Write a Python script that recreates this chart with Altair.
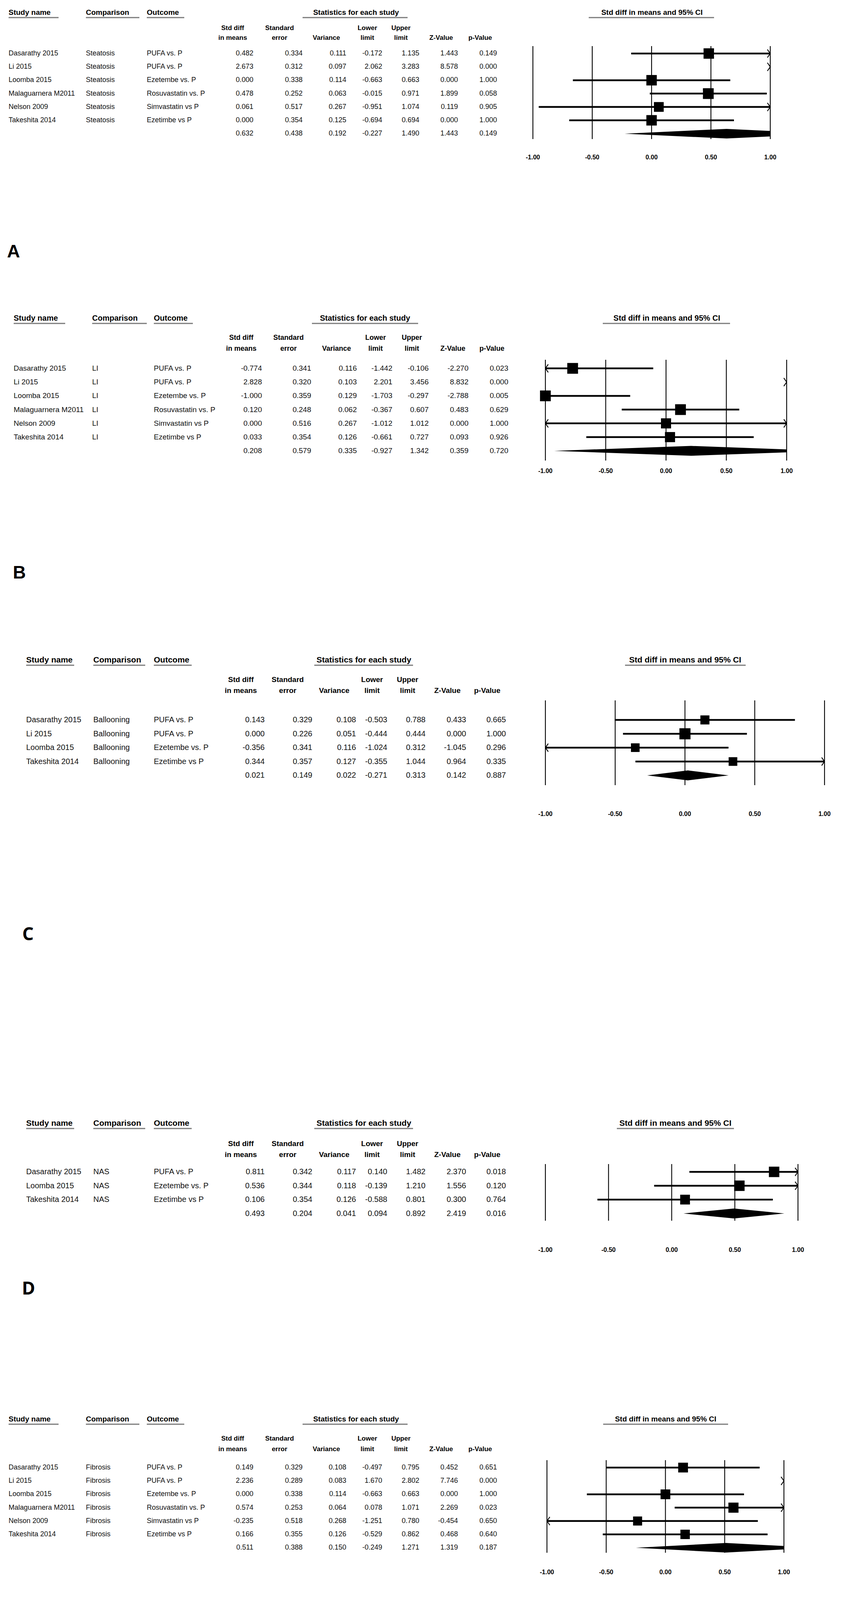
import altair as alt
import pandas as pd

COLS = ["std", "se", "var", "lo", "hi", "z", "p"]
TICKS = [-1.0, -0.5, 0.0, 0.5, 1.0]
TICK_LABELS = ["-1.00", "-0.50", "0.00", "0.50", "1.00"]
HDR1 = ["Std diff", "Standard", "", "Lower", "Upper", "", ""]
HDR2 = ["in means", "error", "Variance", "limit", "limit", "Z-Value", "p-Value"]

# ---------------- Panel A : Steatosis ----------------
A_study = ["Dasarathy 2015", "Li 2015", "Loomba 2015", "Malaguarnera M2011", "Nelson 2009", "Takeshita 2014"]
A_comp = ["Steatosis", "Steatosis", "Steatosis", "Steatosis", "Steatosis", "Steatosis"]
A_out = ["PUFA vs. P", "PUFA vs. P", "Ezetembe vs. P", "Rosuvastatin vs. P", "Simvastatin vs P", "Ezetimbe vs P"]
A_std = [0.482, 2.673, 0.000, 0.478, 0.061, 0.000]
A_se = [0.334, 0.312, 0.338, 0.252, 0.517, 0.354]
A_var = [0.111, 0.097, 0.114, 0.063, 0.267, 0.125]
A_lo = [-0.172, 2.062, -0.663, -0.015, -0.951, -0.694]
A_hi = [1.135, 3.283, 0.663, 0.971, 1.074, 0.694]
A_z = [1.443, 8.578, 0.000, 1.899, 0.119, 0.000]
A_p = [0.149, 0.000, 1.000, 0.058, 0.905, 1.000]
A_sum = [0.632, 0.438, 0.192, -0.227, 1.490, 1.443, 0.149]
A_wt = [16, 16, 16, 17, 14, 16]

# ---------------- Panel B : LI ----------------
B_study = ["Dasarathy 2015", "Li 2015", "Loomba 2015", "Malaguarnera M2011", "Nelson 2009", "Takeshita 2014"]
B_comp = ["LI", "LI", "LI", "LI", "LI", "LI"]
B_out = ["PUFA vs. P", "PUFA vs. P", "Ezetembe vs. P", "Rosuvastatin vs. P", "Simvastatin vs P", "Ezetimbe vs P"]
B_std = [-0.774, 2.828, -1.000, 0.120, 0.000, 0.033]
B_se = [0.341, 0.320, 0.359, 0.248, 0.516, 0.354]
B_var = [0.116, 0.103, 0.129, 0.062, 0.267, 0.126]
B_lo = [-1.442, 2.201, -1.703, -0.367, -1.012, -0.661]
B_hi = [-0.106, 3.456, -0.297, 0.607, 1.012, 0.727]
B_z = [-2.270, 8.832, -2.788, 0.483, 0.000, 0.093]
B_p = [0.023, 0.000, 0.005, 0.629, 1.000, 0.926]
B_sum = [0.208, 0.579, 0.335, -0.927, 1.342, 0.359, 0.720]
B_wt = [17, 17, 17, 17, 15, 15]

# ---------------- Panel C : Ballooning ----------------
C_study = ["Dasarathy 2015", "Li 2015", "Loomba 2015", "Takeshita 2014"]
C_comp = ["Ballooning", "Ballooning", "Ballooning", "Ballooning"]
C_out = ["PUFA vs. P", "PUFA vs. P", "Ezetembe vs. P", "Ezetimbe vs P"]
C_std = [0.143, 0.000, -0.356, 0.344]
C_se = [0.329, 0.226, 0.341, 0.357]
C_var = [0.108, 0.051, 0.116, 0.127]
C_lo = [-0.503, -0.444, -1.024, -0.355]
C_hi = [0.788, 0.444, 0.312, 1.044]
C_z = [0.433, 0.000, -1.045, 0.964]
C_p = [0.665, 1.000, 0.296, 0.335]
C_sum = [0.021, 0.149, 0.022, -0.271, 0.313, 0.142, 0.887]
C_wt = [12, 18, 11, 11]

# ---------------- Panel D : NAS ----------------
D_study = ["Dasarathy 2015", "Loomba 2015", "Takeshita 2014"]
D_comp = ["NAS", "NAS", "NAS"]
D_out = ["PUFA vs. P", "Ezetembe vs. P", "Ezetimbe vs P"]
D_std = [0.811, 0.536, 0.106]
D_se = [0.342, 0.344, 0.354]
D_var = [0.117, 0.118, 0.126]
D_lo = [0.140, -0.139, -0.588]
D_hi = [1.482, 1.210, 0.801]
D_z = [2.370, 1.556, 0.300]
D_p = [0.018, 0.120, 0.764]
D_sum = [0.493, 0.204, 0.041, 0.094, 0.892, 2.419, 0.016]
D_wt = [16, 16, 14]

# ---------------- Panel E : Fibrosis ----------------
E_study = ["Dasarathy 2015", "Li 2015", "Loomba 2015", "Malaguarnera M2011", "Nelson 2009", "Takeshita 2014"]
E_comp = ["Fibrosis", "Fibrosis", "Fibrosis", "Fibrosis", "Fibrosis", "Fibrosis"]
E_out = ["PUFA vs. P", "PUFA vs. P", "Ezetembe vs. P", "Rosuvastatin vs. P", "Simvastatin vs P", "Ezetimbe vs P"]
E_std = [0.149, 2.236, 0.000, 0.574, -0.235, 0.166]
E_se = [0.329, 0.289, 0.338, 0.253, 0.518, 0.355]
E_var = [0.108, 0.083, 0.114, 0.064, 0.268, 0.126]
E_lo = [-0.497, 1.670, -0.663, 0.078, -1.251, -0.529]
E_hi = [0.795, 2.802, 0.663, 1.071, 0.780, 0.862]
E_z = [0.452, 7.746, 0.000, 2.269, -0.454, 0.468]
E_p = [0.651, 0.000, 1.000, 0.023, 0.650, 0.640]
E_sum = [0.511, 0.388, 0.150, -0.249, 1.271, 1.319, 0.187]
E_wt = [14, 14, 14, 15, 12, 13]

# ---------------- layout (page pixel coordinates) ----------------
FONT = "Liberation Sans Narrow, Arial Narrow, Liberation Sans, sans-serif"
LBL_FONT_AB = "Liberation Sans, Arial, sans-serif"
LBL_FONT_CDE = "Open Sans, Noto Sans, sans-serif"

LAYOUT = {
    "A": dict(top=8, bottom=740, xs=[22, 220, 376],
              right=[649, 775, 887, 979, 1074, 1173, 1273],
              hc=[596, 716, 836, 941, 1027, 1130, 1230],
              hy=32, chy=[72, 97], row0=137, dy=34.2,
              ul=[[22, 150], [220, 357], [376, 472], [775, 1044], [1508, 1829]],
              stats_c=912, ci_c=1670, forest=[1365, 1973], vtop=118, vbot=356, tick_y=403,
              lx=18, ly=645, lfont=LBL_FONT_AB, fs=18, hfs=19),
    "B": dict(top=740, bottom=1560, xs=[35, 236, 394],
              right=[671, 797, 914, 1005, 1098, 1200, 1302],
              hc=[618, 739, 862, 962, 1055, 1160, 1260],
              hy=815, chy=[865, 893], row0=943, dy=35.2,
              ul=[[35, 167], [236, 376], [394, 494], [799, 1071], [1544, 1870]],
              stats_c=935, ci_c=1708, forest=[1397, 2015], vtop=921, vbot=1179, tick_y=1206,
              lx=33, ly=1467, lfont=LBL_FONT_AB, fs=19, hfs=20),
    "C": dict(top=1560, bottom=2600, xs=[67, 239, 394],
              right=[678, 800, 912, 992, 1090, 1194, 1296],
              hc=[617, 737, 856, 953, 1044, 1146, 1248],
              hy=1690, chy=[1740, 1768], row0=1843, dy=35.5,
              ul=[[67, 190], [239, 372], [394, 491], [805, 1058], [1601, 1910]],
              stats_c=932, ci_c=1755, forest=[1397, 2112], vtop=1793, vbot=2010, tick_y=2084,
              lx=57, ly=2393, lfont=LBL_FONT_CDE, fs=20, hfs=21),
    "D": dict(top=2600, bottom=3420, xs=[67, 239, 394],
              right=[678, 800, 912, 992, 1090, 1194, 1296],
              hc=[617, 737, 856, 953, 1044, 1146, 1248],
              hy=2876, chy=[2928, 2956], row0=3000, dy=35.5,
              ul=[[67, 190], [239, 372], [394, 491], [805, 1058], [1580, 1880]],
              stats_c=932, ci_c=1730, forest=[1397, 2044], vtop=2980, vbot=3125, tick_y=3200,
              lx=56, ly=3300, lfont=LBL_FONT_CDE, fs=20, hfs=21),
    "E": dict(top=3420, bottom=4215, xs=[22, 220, 376],
              right=[649, 775, 887, 979, 1074, 1173, 1273],
              hc=[596, 716, 836, 941, 1027, 1130, 1230],
              hy=3633, chy=[3683, 3710], row0=3757, dy=34.2,
              ul=[[22, 150], [220, 357], [376, 472], [775, 1044], [1545, 1865]],
              stats_c=912, ci_c=1705, forest=[1401, 2008], vtop=3738, vbot=3975, tick_y=4025,
              lx=30, ly=4183, lfont=LBL_FONT_CDE, fs=18, hfs=19),
}
PAGE_W = 2151


def one_text(text, x, y, align="center", bold=False, size=18, font=FONT, color="black"):
    return alt.Chart(pd.DataFrame({"t": [text]})).mark_text(
        align=align, baseline="middle", font=font, fontSize=size,
        fontWeight="bold" if bold else "normal", color=color
    ).encode(x=alt.value(x), y=alt.value(y), text="t:N")


def panel(key, study, comp, outc, vals, summ, wt):
    L = LAYOUT[key]
    top = L["top"]
    H = L["bottom"] - top
    ly = lambda y: y - top
    lx = lambda x: x - 8
    n = len(study)

    yscale = alt.Scale(domain=[0, 1], range=[ly(L["row0"]), ly(L["row0"] + L["dy"])], nice=False, zero=False)
    xscale = alt.Scale(domain=[-1, 1], range=[lx(L["forest"][0]), lx(L["forest"][1])], nice=False, zero=False)

    tab = pd.DataFrame({"row": list(range(n + 1)),
                        "study": study + [""], "comp": comp + [""], "outc": outc + [""]})
    for k, c in enumerate(COLS):
        tab[c] = [f"{v:.3f}" for v in vals[k]] + [f"{summ[k]:.3f}"]

    layers = []
    fs = L["fs"]
    for fld, x in zip(["study", "comp", "outc"], L["xs"]):
        layers.append(alt.Chart(tab).mark_text(align="left", baseline="middle", font=FONT, fontSize=fs, color="#111")
                      .encode(x=alt.value(lx(x)), y=alt.Y("row:Q", scale=yscale, axis=None), text=f"{fld}:N"))
    for c, x in zip(COLS, L["right"]):
        layers.append(alt.Chart(tab).mark_text(align="right", baseline="middle", font=FONT, fontSize=fs, color="#111")
                      .encode(x=alt.value(lx(x)), y=alt.Y("row:Q", scale=yscale, axis=None), text=f"{c}:N"))

    hfs = L["hfs"]
    for txt, (x1, x2) in zip(["Study name", "Comparison", "Outcome"], L["ul"][:3]):
        layers.append(one_text(txt, lx(x1), ly(L["hy"]), align="left", bold=True, size=hfs))
    layers.append(one_text("Statistics for each study", lx(L["stats_c"]), ly(L["hy"]), bold=True, size=hfs))
    layers.append(one_text("Std diff in means and 95% CI", lx(L["ci_c"]), ly(L["hy"]), bold=True, size=hfs))
    for (x1, x2) in L["ul"]:
        layers.append(alt.Chart(pd.DataFrame({"a": [0]})).mark_rule(color="#7a7a7a", strokeWidth=3)
                      .encode(x=alt.value(lx(x1)), x2=alt.value(lx(x2)), y=alt.value(ly(L["hy"]) + 13)))
    for h1, h2, xc in zip(HDR1, HDR2, L["hc"]):
        if h1:
            layers.append(one_text(h1, lx(xc), ly(L["chy"][0]), bold=True, size=fs - 1))
        layers.append(one_text(h2, lx(xc), ly(L["chy"][1]), bold=True, size=fs - 1))

    tk = pd.DataFrame({"t": TICKS, "lab": TICK_LABELS})
    layers.append(alt.Chart(tk).mark_rule(color="black", strokeWidth=2.2)
                  .encode(x=alt.X("t:Q", scale=xscale, axis=None),
                          y=alt.value(ly(L["vtop"])), y2=alt.value(ly(L["vbot"]))))
    layers.append(alt.Chart(tk).mark_text(baseline="middle", font=FONT, fontSize=16, fontWeight="bold")
                  .encode(x=alt.X("t:Q", scale=xscale, axis=None), y=alt.value(ly(L["tick_y"])), text="lab:N"))

    est, lo, hi = vals[0], vals[3], vals[4]
    ci = pd.DataFrame({"row": list(range(n)), "lo": lo, "hi": hi, "est": est, "w": wt})
    ci["loc"] = ci["lo"].clip(lower=-1)
    ci["hic"] = ci["hi"].clip(upper=1)
    vis = ci[(ci["lo"] < 1) & (ci["hi"] > -1)]
    layers.append(alt.Chart(vis).mark_rule(color="black", strokeWidth=4.5)
                  .encode(x=alt.X("loc:Q", scale=xscale, axis=None), x2="hic:Q",
                          y=alt.Y("row:Q", scale=yscale, axis=None)))
    sq = ci[(ci["est"] >= -1) & (ci["est"] <= 1)]
    layers.append(alt.Chart(sq).mark_point(shape="square", filled=True, color="black", opacity=1)
                  .encode(x=alt.X("est:Q", scale=xscale, axis=None),
                          y=alt.Y("row:Q", scale=yscale, axis=None),
                          size=alt.Size("w:Q", scale=alt.Scale(domain=[0, 17], range=[0, 760]), legend=None)))
    right = ci[ci["hi"] > 1].assign(edge=1.0)
    left = ci[ci["lo"] < -1].assign(edge=-1.0)
    if len(right):
        layers.append(alt.Chart(right).mark_point(shape="M -0.7 -1 L 0 0 L -0.7 1", filled=False,
                                                   color="black", strokeWidth=2.2, size=440, opacity=1)
                      .encode(x=alt.X("edge:Q", scale=xscale, axis=None), y=alt.Y("row:Q", scale=yscale, axis=None)))
    if len(left):
        layers.append(alt.Chart(left).mark_point(shape="M 0.7 -1 L 0 0 L 0.7 1", filled=False,
                                                  color="black", strokeWidth=2.2, size=440, opacity=1)
                      .encode(x=alt.X("edge:Q", scale=xscale, axis=None), y=alt.Y("row:Q", scale=yscale, axis=None)))

    s_est, s_lo, s_hi = summ[0], summ[3], summ[4]
    hh = 0.36

    def half(x):
        if x <= s_est:
            return hh * (x - s_lo) / (s_est - s_lo)
        return hh * (s_hi - x) / (s_hi - s_est)

    xs = [max(s_lo, -1.0), s_est, min(s_hi, 1.0)]
    dm = pd.DataFrame({"x": xs, "yt": [n - half(x) for x in xs], "yb": [n + half(x) for x in xs]})
    layers.append(alt.Chart(dm).mark_area(color="black", opacity=1)
                  .encode(x=alt.X("x:Q", scale=xscale, axis=None),
                          y=alt.Y("yt:Q", scale=yscale, axis=None), y2="yb:Q"))

    layers.append(one_text(key, lx(L["lx"]), ly(L["ly"]), align="left", bold=True, size=46, font=L["lfont"]))

    return alt.layer(*layers).properties(width=PAGE_W, height=H)


pA = panel("A", A_study, A_comp, A_out, [A_std, A_se, A_var, A_lo, A_hi, A_z, A_p], A_sum, A_wt)
pB = panel("B", B_study, B_comp, B_out, [B_std, B_se, B_var, B_lo, B_hi, B_z, B_p], B_sum, B_wt)
pC = panel("C", C_study, C_comp, C_out, [C_std, C_se, C_var, C_lo, C_hi, C_z, C_p], C_sum, C_wt)
pD = panel("D", D_study, D_comp, D_out, [D_std, D_se, D_var, D_lo, D_hi, D_z, D_p], D_sum, D_wt)
pE = panel("E", E_study, E_comp, E_out, [E_std, E_se, E_var, E_lo, E_hi, E_z, E_p], E_sum, E_wt)

chart = alt.vconcat(pA, pB, pC, pD, pE, spacing=0).resolve_scale(
    x="independent", y="independent", size="independent"
).properties(padding=0, background="white").configure_view(stroke=None)

chart.save("out.html", embed_options={"renderer": "svg", "actions": False})
